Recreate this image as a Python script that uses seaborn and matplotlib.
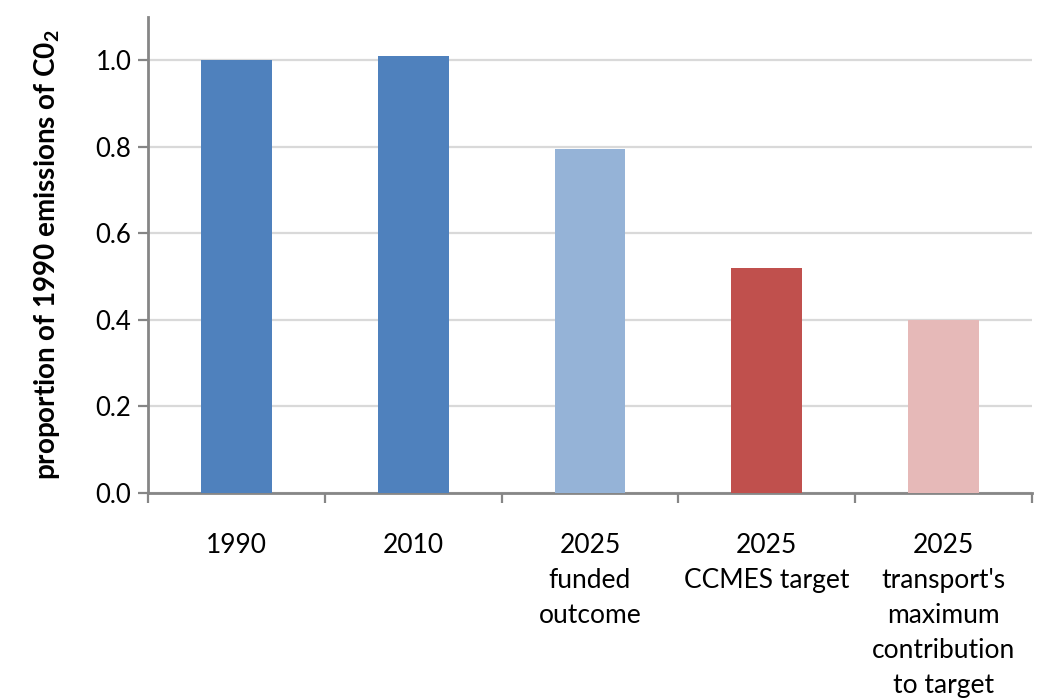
import matplotlib
matplotlib.use("Agg")
import matplotlib.pyplot as plt
import seaborn as sns
import pandas as pd

# Emissions relative to the 1990 baseline
categories = ["1990", "2010", "2025\nfunded\noutcome", "2025\nCCMES target",
              "2025\ntransport's\nmaximum\ncontribution\nto target"]
values = [1.0, 1.01, 0.794, 0.52, 0.40]
bar_colors = ["#4F81BD", "#4F81BD", "#95B3D7", "#C0504D", "#E6B9B8"]
y_ticks = [0.0, 0.2, 0.4, 0.6, 0.8, 1.0]

sns.set_theme(style="white")
plt.rcParams["font.family"] = ["Lato", "DejaVu Sans"]

df = pd.DataFrame({"category": categories, "value": values})

fig = plt.figure(figsize=(10.53, 7.0), dpi=100)
ax = fig.add_axes([0.1406, 0.2957, 0.8394, 0.6803])

sns.barplot(data=df, x="category", y="value", hue="category",
            palette=bar_colors, width=0.4, legend=False, ax=ax,
            saturation=1, linewidth=0, zorder=3)

grid_c = "#D9D9D9"
spine_c = "#868686"

ax.set_ylim(0, 1.1)
ax.set_xlim(-0.5, len(categories) - 0.5)
ax.set_yticks(y_ticks)
ax.set_yticklabels([f"{t:.1f}" for t in y_ticks])
ax.yaxis.grid(True, color=grid_c, linewidth=1.6, zorder=0)
ax.xaxis.grid(False)

# Category boundaries carry the tick marks; labels sit at bar centres
ax.set_xticks([i - 0.5 for i in range(len(categories) + 1)])
ax.set_xticklabels([])
ax.set_xticks(range(len(categories)), minor=True)
ax.set_xticklabels(categories, minor=True, fontsize=19, linespacing=1.5,
                   color="#000000", va="top")
ax.tick_params(axis="x", which="major", direction="out", length=7,
               width=1.6, color=spine_c, bottom=True)
ax.tick_params(axis="x", which="minor", length=0, pad=29)
ax.tick_params(axis="y", direction="out", length=7, width=1.6,
               color=spine_c, left=True, labelsize=18.5, labelcolor="#000000",
               pad=5)

for side in ["top", "right"]:
    ax.spines[side].set_visible(False)
for side in ["left", "bottom"]:
    ax.spines[side].set_color(spine_c)
    ax.spines[side].set_linewidth(2)

ax.set_xlabel("")
ax.set_ylabel(r"proportion of 1990 emissions of C0$_\mathregular{2}$",
              fontsize=20, fontweight="bold", color="#000000", labelpad=24)

fig.savefig("out.png", dpi=100, facecolor="white")
